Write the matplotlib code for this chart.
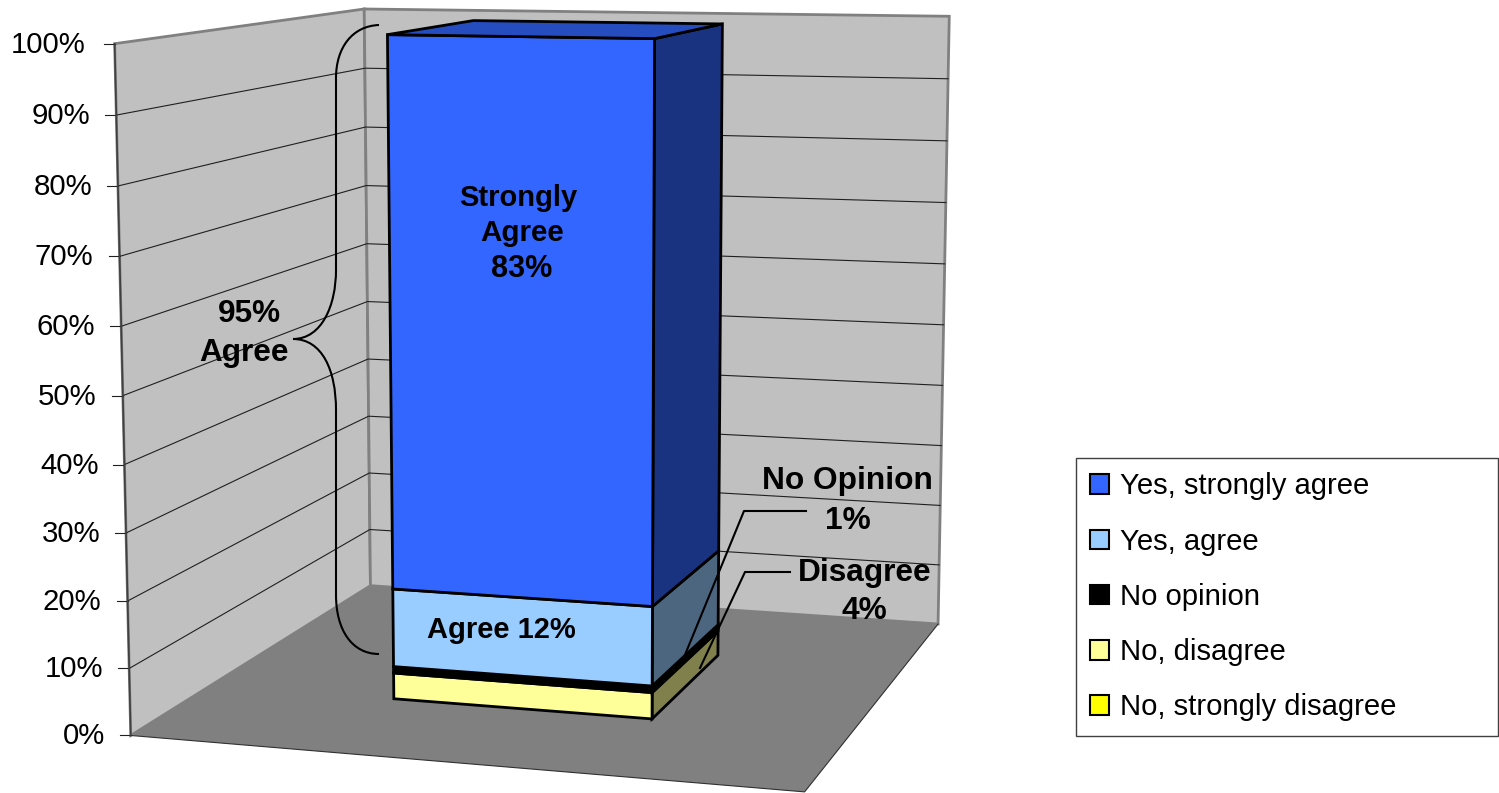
import numpy as np
import matplotlib
matplotlib.use('Agg')
import matplotlib.pyplot as plt
from matplotlib.patches import Polygon, Patch, PathPatch
from matplotlib.path import Path

plt.rcParams['font.family'] = ['Liberation Sans', 'DejaVu Sans']

# Datos
categorias = ['No, strongly disagree', 'No, disagree', 'No opinion', 'Yes, agree', 'Yes, strongly agree']
valores = [0, 4, 1, 12, 83]
colores = ['#FFFF00', '#FFFF99', '#000000', '#99CCFF', '#3366FF']
ticks = [0, 10, 20, 30, 40, 50, 60, 70, 80, 90, 100]

# Caja del grafico: esquinas (x, profundidad, z) y su lugar en la imagen
esquinas = [(0, 0, 0), (0, 0, 1), (0, 1, 0), (0, 1, 1), (1, 1, 0), (1, 1, 1), (1, 0, 0)]
pixeles = [(131, 736), (114, 44), (370, 585), (365, 9), (938, 625), (949, 16), (805, 791)]

# Ajustar la camara con minimos cuadrados
filas = []
lado = []
for (x, y, z), (px, py) in zip(esquinas, pixeles):
    filas.append([x, y, z, 1, 0, 0, 0, 0, -px * x, -px * y, -px * z])
    lado.append(px)
    filas.append([0, 0, 0, 0, x, y, z, 1, -py * x, -py * y, -py * z])
    lado.append(py)
cam = np.linalg.lstsq(np.array(filas, float), np.array(lado, float), rcond=None)[0]
cam = np.append(cam, 1).reshape(3, 4)


def proyectar(x, y, valor):
    p = cam @ np.array([x, y, valor / 100, 1])
    return p[0] / p[2], p[1] / p[2]


def oscurecer(color, f):
    r, g, b = matplotlib.colors.to_rgb(color)
    return (r * f, g * f, b * f)


fig = plt.figure(figsize=(14.99, 7.93), dpi=100)
ax = fig.add_axes([0, 0, 1, 1])
ax.set_xlim(0, 1499)
ax.set_ylim(793, 0)
ax.axis('off')

# Paredes y piso
ax.add_patch(Polygon([proyectar(0, 0, 0), proyectar(0, 0, 100), proyectar(0, 1, 100), proyectar(0, 1, 0)],
                     facecolor='#C0C0C0', edgecolor='#808080', lw=2, zorder=1))
ax.add_patch(Polygon([proyectar(0, 1, 0), proyectar(0, 1, 100), proyectar(1, 1, 100), proyectar(1, 1, 0)],
                     facecolor='#C0C0C0', edgecolor='#808080', lw=2, zorder=1))
ax.add_patch(Polygon([proyectar(0, 0, 0), proyectar(1, 0, 0), proyectar(1, 1, 0), proyectar(0, 1, 0)],
                     facecolor='#808080', edgecolor='none', zorder=2))
# solo los bordes de adelante del piso llevan linea
a = proyectar(0, 0, 0)
b = proyectar(1, 0, 0)
c = proyectar(1, 1, 0)
ax.plot([a[0], b[0], c[0]], [a[1], b[1], c[1]], color='#303030', lw=0.8, zorder=2)

# Lineas de la cuadricula, marcas y etiquetas
for t in ticks:
    a = proyectar(0, 0, t)
    b = proyectar(0, 1, t)
    c = proyectar(1, 1, t)
    if 0 < t < 100:
        ax.plot([a[0], b[0], c[0]], [a[1], b[1], c[1]], color='#202020', lw=0.8, zorder=2)
    ax.plot([a[0] - 11, a[0]], [a[1], a[1]], color='#202020', lw=0.8, zorder=3)
    separacion = 29 if t == 100 else 26
    ax.text(a[0] - separacion, a[1] + 1, f'{t}%', ha='right', va='center', fontsize=21.2, zorder=6)
a = proyectar(0, 0, 0)
b = proyectar(0, 0, 100)
ax.plot([a[0], b[0]], [a[1], b[1]], color='#404040', lw=1.2, zorder=3)

# Barra apilada
x0, x1 = 0.297, 0.702
y0, y1 = 0.300, 0.695
base = 0
for valor, color in zip(valores, colores):
    if valor > 0:
        tope = base + valor
        ax.add_patch(Polygon([proyectar(x1, y0, base), proyectar(x1, y1, base), proyectar(x1, y1, tope), proyectar(x1, y0, tope)],
                             facecolor=oscurecer(color, 0.5), edgecolor='black', lw=2, zorder=4))
        ax.add_patch(Polygon([proyectar(x0, y0, base), proyectar(x1, y0, base), proyectar(x1, y0, tope), proyectar(x0, y0, tope)],
                             facecolor=color, edgecolor='black', lw=2, zorder=4))
        base = tope
ax.add_patch(Polygon([proyectar(x0, y0, 100), proyectar(x1, y0, 100), proyectar(x1, y1, 100), proyectar(x0, y1, 100)],
                     facecolor=oscurecer(colores[-1], 0.75), edgecolor='black', lw=2, zorder=4))

# Textos dentro y fuera de la barra
ax.text(518, 198, 'Strongly', ha='center', va='center', fontsize=21, fontweight='bold', zorder=6)
ax.text(522, 233, 'Agree', ha='center', va='center', fontsize=21.3, fontweight='bold', zorder=6)
ax.text(522, 269, f'{valores[4]}%', ha='center', va='center', fontsize=22, fontweight='bold', zorder=6)
ax.text(501, 630, f'Agree {valores[3]}%', ha='center', va='center', fontsize=21, fontweight='bold', zorder=6)
ax.text(249, 314, f'{valores[4] + valores[3]}%', ha='center', va='center', fontsize=22.7, fontweight='bold', zorder=6)
ax.text(244, 353, 'Agree', ha='center', va='center', fontsize=22.7, fontweight='bold', zorder=6)
ax.text(847, 481, 'No Opinion', ha='center', va='center', fontsize=22.8, fontweight='bold', zorder=6)
ax.text(848, 521, f'{valores[2]}%', ha='center', va='center', fontsize=22.8, fontweight='bold', zorder=6)
ax.text(865, 573, 'Disagree', ha='center', va='center', fontsize=22.8, fontweight='bold', zorder=6)
ax.text(864, 611, f'{valores[1]}%', ha='center', va='center', fontsize=22.8, fontweight='bold', zorder=6)

# Lineas de las llamadas
ax.plot([806, 744, 680], [511, 511, 667], color='black', lw=1.5, zorder=5)
ax.plot([790, 745, 700], [572, 572, 668], color='black', lw=1.5, zorder=5)

# Llave de "95% Agree"
verts = [(379, 25), (352, 26), (336, 48), (336, 78),
         (336, 270),
         (336, 305), (322, 339), (293, 339),
         (322, 339), (336, 370), (336, 410),
         (336, 595),
         (336, 630), (352, 654), (379, 654)]
codes = [Path.MOVETO, Path.CURVE4, Path.CURVE4, Path.CURVE4,
         Path.LINETO,
         Path.CURVE4, Path.CURVE4, Path.CURVE4,
         Path.CURVE4, Path.CURVE4, Path.CURVE4,
         Path.LINETO,
         Path.CURVE4, Path.CURVE4, Path.CURVE4]
ax.add_patch(PathPatch(Path(verts, codes), facecolor='none', edgecolor='black', lw=1.5, zorder=5))

# Leyenda
handles = [Patch(facecolor=c, edgecolor='black', lw=1.5) for c in colores[::-1]]
fig_w, fig_h = 1499, 793
leg = ax.legend(handles, categorias[::-1], loc='upper left',
                bbox_to_anchor=(1076 / fig_w, 1 - 735 / fig_h, 422 / fig_w, 277 / fig_h),
                bbox_transform=fig.transFigure, mode='expand', fontsize=21.1, fancybox=False, framealpha=1,
                edgecolor='#404040', borderaxespad=0, borderpad=0.49, handlelength=0.65, handleheight=0.65,
                handletextpad=0.35, labelspacing=0.93)
leg.get_frame().set_linewidth(1)
leg.set_zorder(7)

fig.savefig('out.png', dpi=100)
